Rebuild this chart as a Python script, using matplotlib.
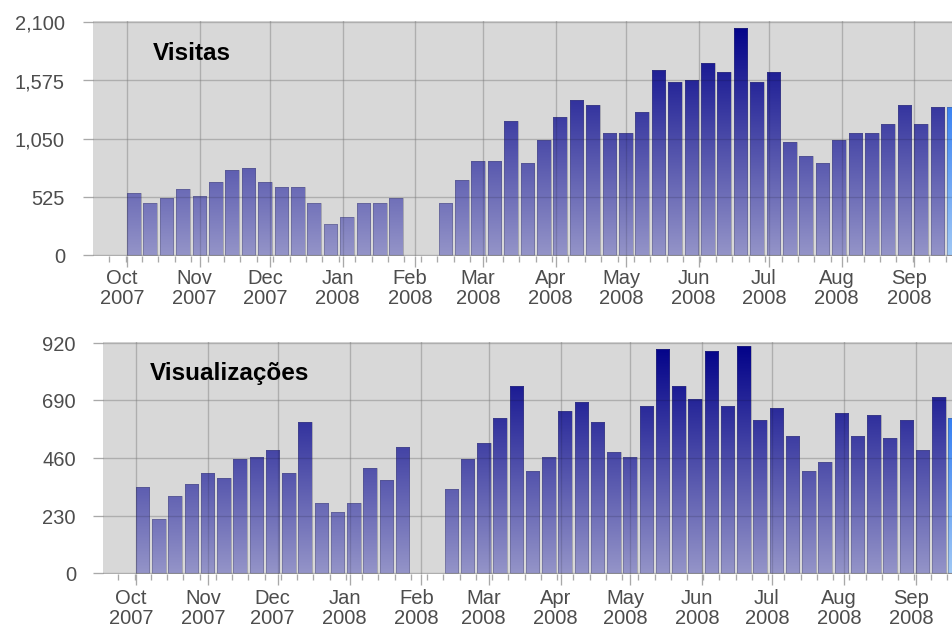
import numpy as np
import pandas as pd
import matplotlib
matplotlib.use('Agg')
import matplotlib.pyplot as plt
import matplotlib.dates as mdates
import matplotlib.transforms as mtransforms
from matplotlib.colors import LinearSegmentedColormap
from matplotlib.ticker import FixedLocator

# weekly buckets, Monday starts; None = week without data
WEEKS = pd.date_range('2007-10-01', periods=51, freq='7D')
MONTHS = pd.date_range('2007-10-01', '2008-09-01', freq='MS')
MONTH_LABELS = ['Oct\n2007', 'Nov\n2007', 'Dec\n2007', 'Jan\n2008', 'Feb\n2008',
                'Mar\n2008', 'Apr\n2008', 'May\n2008', 'Jun\n2008', 'Jul\n2008',
                'Aug\n2008', 'Sep\n2008']

VISITAS = [555, 471, 513, 597, 534, 659, 764, 785, 659, 617, 617, 471, 280,
           346, 471, 471, 513, None, None, 471, 680, 847, 847, 1205, 826,
           1038, 1247, 1396, 1351, 1098, 1098, 1289, 1665, 1560, 1581, 1730,
           1647, 2043, 1560, 1647, 1014, 889, 826, 1038, 1098, 1098, 1181,
           1351, 1181, 1330, 1330]
VISITAS_TICKS = [0, 525, 1050, 1575, 2100]
VISITAS_LABELS = ['0', '525', '1,050', '1,575', '2,100']

VISUALIZACOES = [345, 216, 308, 355, 401, 382, 456, 465, 493, 401, 602, 281,
                 244, 281, 419, 373, 502, None, None, 336, 456, 518, 621, 749,
                 409, 464, 648, 685, 602, 482, 464, 667, 896, 749, 695, 887,
                 667, 905, 612, 658, 547, 409, 445, 639, 547, 630, 538, 612,
                 492, 704, 621]
VISUALIZACOES_TICKS = [0, 230, 460, 690, 920]
VISUALIZACOES_LABELS = ['0', '230', '460', '690', '920']

BAR_DAYS = 5.8
GRAD = np.linspace(0, 1, 256).reshape(-1, 1)
NORMAL = LinearSegmentedColormap.from_list('normal', ['#9494c8', '#000088'])
HIGHLIGHT = LinearSegmentedColormap.from_list('hl', ['#a0c8f5', '#005af0'])
GRID = '#c8c8c8'
TICK = '#a9a9a9'
LABEL = '#4d4d4d'
FONT = 'Liberation Sans'

fig = plt.figure(figsize=(9.53, 6.3), dpi=100)


def px(dx, dy):
    return mtransforms.ScaledTranslation(dx / 100, dy / 100, fig.dpi_scale_trans)


def draw_panel(ax, values, ticks, labels, title, xlim_days, ylab_dx, xlab_dy, title_xy):
    start = mdates.date2num(WEEKS[0])
    x = mdates.date2num(WEEKS)
    xs = [xi for xi, v in zip(x, values) if v is not None]
    hs = [v for v in values if v is not None]
    ymax = ticks[-1]

    ax.set_facecolor('#d8d8d8')
    for s in ax.spines.values():
        s.set_visible(False)

    bars = ax.bar(xs, hs, width=BAR_DAYS, align='edge', facecolor='none',
                  edgecolor=(0.3, 0.3, 0.4, 0.35), linewidth=0.7, zorder=3)
    for i, rect in enumerate(bars):
        cmap = HIGHLIGHT if i == len(bars) - 1 else NORMAL
        x0 = rect.get_x()
        im = ax.imshow(GRAD, cmap=cmap, origin='lower', aspect='auto',
                       interpolation='bilinear',
                       extent=(x0, x0 + rect.get_width(), 0, ymax), zorder=2)
        im.set_clip_path(rect)

    ax.set_xlim(start + xlim_days[0], start + xlim_days[1])
    ax.set_ylim(-ymax * 0.004, ymax * 1.004)

    month_pos = mdates.date2num(MONTHS)
    ax.xaxis.set_major_locator(FixedLocator(month_pos))
    ax.xaxis.set_minor_locator(FixedLocator(np.arange(start - 21, start + 371, 7) - 0.6))
    ax.yaxis.set_major_locator(FixedLocator(ticks))
    ax.set_axisbelow(True)
    ax.grid(True, which='major', color=GRID, linewidth=0.95)
    ax.tick_params(axis='x', which='major', length=8, width=0.95, color=TICK,
                   labelbottom=False)
    ax.tick_params(axis='x', which='minor', length=4.3, width=0.95, color=TICK)
    ax.tick_params(axis='y', which='major', length=7.2, width=0.95, color=TICK,
                   labelleft=False)

    # grid shows through the bars
    for t in ticks:
        ax.axhline(t, color='k', alpha=0.13, linewidth=0.95, zorder=4)
    for m in month_pos:
        ax.axvline(m, color='k', alpha=0.13, linewidth=0.95, zorder=4)

    ytrans = mtransforms.blended_transform_factory(ax.transAxes, ax.transData)
    for t, lab in zip(ticks, labels):
        ax.text(0, t, lab, transform=ytrans + px(ylab_dx, -2.5), ha='right',
                va='center', fontsize=14.5, color=LABEL, family=FONT)

    xtrans = mtransforms.blended_transform_factory(ax.transData, ax.transAxes)
    for m, lab in zip(month_pos, MONTH_LABELS):
        ax.text(m, 0, lab, transform=xtrans + px(-5, xlab_dy), ha='center',
                va='top', fontsize=14.5, color=LABEL, family=FONT,
                linespacing=1.05, multialignment='center')

    ax.text(title_xy[0], title_xy[1], title, transform=ax.transAxes,
            fontsize=17.5, fontweight='bold', family=FONT, va='baseline')


ax_top = fig.add_axes([93 / 953, 1 - 256 / 630, 860 / 953, 235 / 630])
draw_panel(ax_top, VISITAS, VISITAS_TICKS, VISITAS_LABELS, 'Visitas',
           (-34 / 2.343, 826 / 2.343), -28, -13, (60 / 860, 196 / 235))

ax_bot = fig.add_axes([103 / 953, 1 - 574.3 / 630, 850 / 953, 232.6 / 630])
draw_panel(ax_bot, VISUALIZACOES, VISUALIZACOES_TICKS, VISUALIZACOES_LABELS,
           'Visualizações', (-33 / 2.321, 817 / 2.321), -27, -15,
           (47 / 850, 194 / 232.6))

fig.savefig('out.png', dpi=100)
